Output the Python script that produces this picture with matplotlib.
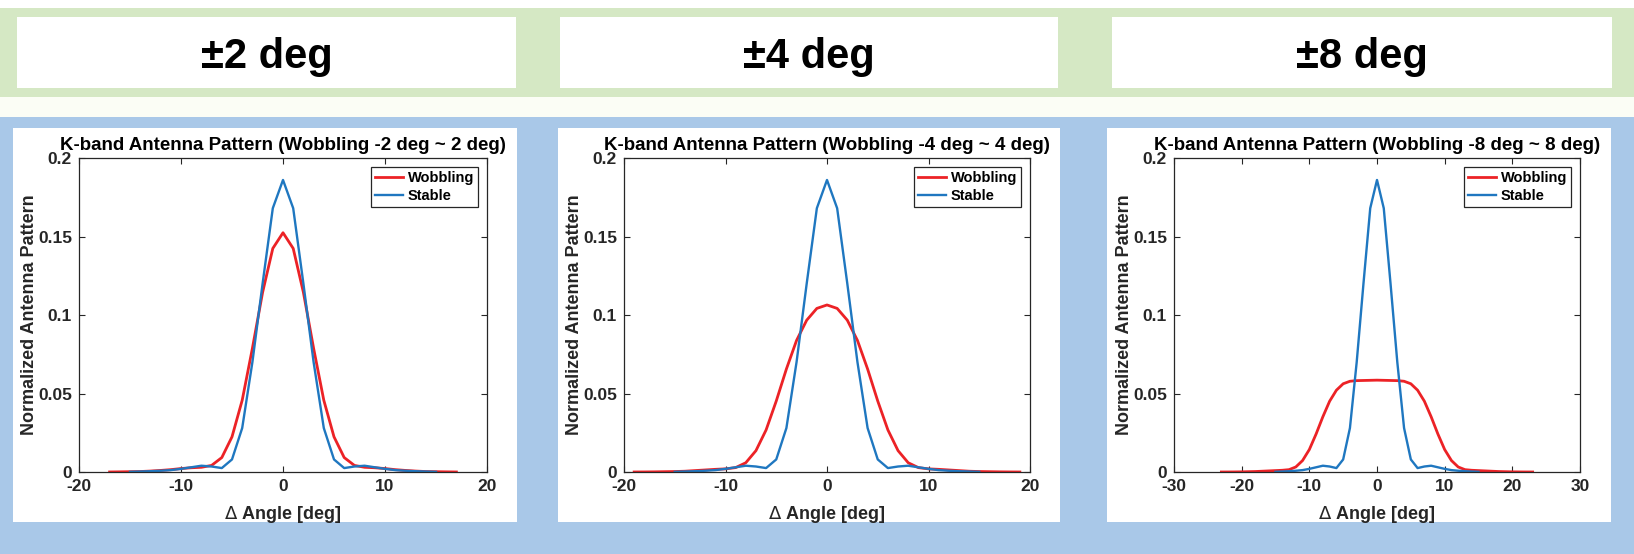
import numpy as np
import matplotlib
matplotlib.use("Agg")
import matplotlib.pyplot as plt
from matplotlib.patches import Rectangle

plt.rcParams['font.family'] = ['Liberation Sans', 'DejaVu Sans']
plt.rcParams['mathtext.fontset'] = 'dejavusans'

W, H = 1634, 554

# ---------------- data ----------------
header_labels = ["±2 deg", "±4 deg", "±8 deg"]
panel_titles = ["K-band Antenna Pattern (Wobbling -2 deg ~ 2 deg)",
                "K-band Antenna Pattern (Wobbling -4 deg ~ 4 deg)",
                "K-band Antenna Pattern (Wobbling -8 deg ~ 8 deg)"]

stable_x = np.arange(-15, 16)
stable_y = [0.0001, 0.0003, 0.0005, 0.0008, 0.0012, 0.002, 0.003, 0.004, 0.0035, 0.0025,
            0.008, 0.028, 0.070, 0.120, 0.168, 0.186, 0.168, 0.120, 0.070, 0.028, 0.008,
            0.0025, 0.0035, 0.004, 0.003, 0.002, 0.0012, 0.0008, 0.0005, 0.0003, 0.0001]

wob2_x = np.arange(-17, 18)
wob2_y = [0.00002, 0.0001, 0.0002, 0.0003, 0.0006, 0.0010, 0.0015, 0.0022, 0.0027, 0.0030,
          0.0042, 0.0092, 0.0224, 0.0457, 0.0788, 0.1144, 0.1424,
          0.1524,
          0.1424, 0.1144, 0.0788, 0.0457, 0.0224, 0.0092, 0.0042, 0.0030, 0.0027, 0.0022,
          0.0015, 0.0010, 0.0006, 0.0003, 0.0002, 0.0001, 0.00002]

wob4_x = np.arange(-19, 20)
wob4_y = [0.00001, 0.00004, 0.0001, 0.0002, 0.0003, 0.0005, 0.0009, 0.0013, 0.0017, 0.0020,
          0.0028, 0.0059, 0.0136, 0.0268, 0.0452, 0.0656, 0.0838, 0.0967, 0.1042,
          0.1064,
          0.1042, 0.0967, 0.0838, 0.0656, 0.0452, 0.0268, 0.0136, 0.0059, 0.0028, 0.0020,
          0.0017, 0.0013, 0.0009, 0.0005, 0.0003, 0.0002, 0.0001, 0.00004, 0.00001]

wob8_x = np.arange(-23, 24)
wob8_y = [0.00001, 0.00002, 0.00005, 0.0001, 0.0002, 0.0003, 0.0005, 0.0007, 0.0009, 0.0011,
          0.0015, 0.0032, 0.0073, 0.0143, 0.0242, 0.0352, 0.0451, 0.0521, 0.0562, 0.0578,
          0.0582, 0.0583, 0.0584,
          0.0585,
          0.0584, 0.0583, 0.0582, 0.0578, 0.0562, 0.0521, 0.0451, 0.0352, 0.0242, 0.0143,
          0.0073, 0.0032, 0.0015, 0.0011, 0.0009, 0.0007, 0.0005, 0.0003, 0.0002, 0.0001,
          0.00005, 0.00002, 0.00001]

wob_x = [wob2_x, wob4_x, wob8_x]
wob_y = [wob2_y, wob4_y, wob8_y]
xlims = [(-20, 20), (-20, 20), (-30, 30)]
xticks = [[-20, -10, 0, 10, 20], [-20, -10, 0, 10, 20], [-30, -20, -10, 0, 10, 20, 30]]
yticks = [0, 0.05, 0.1, 0.15, 0.2]
ytick_labels = ["0", "0.05", "0.1", "0.15", "0.2"]

# ---------------- layout helpers ----------------
def fr(x0, y0, x1, y1):
    return [x0 / W, 1 - y1 / H, (x1 - x0) / W, (y1 - y0) / H]

fig = plt.figure(figsize=(W / 100, H / 100), dpi=100)
fig.patch.set_facecolor('white')

def rect(x0, y0, x1, y1, color, z=0):
    fig.add_artist(Rectangle((x0 / W, 1 - y1 / H), (x1 - x0) / W, (y1 - y0) / H,
                             transform=fig.transFigure, facecolor=color,
                             edgecolor='none', zorder=z))

GREEN = '#d5e8c4'
BLUE = '#a9c8e8'
rect(0, 97, W, 117, '#fbfdf5', 0)
rect(0, 8, W, 97, GREEN, 0)
rect(0, 117, W, H, BLUE, 0)

boxes = [(17, 516), (560, 1058), (1112, 1612)]
for (bx0, bx1), lab in zip(boxes, header_labels):
    rect(bx0, 17, bx1, 88, 'white', 1)
    fig.text((bx0 + bx1) / 2 / W, 1 - 57 / H, lab, ha='center', va='center',
             fontsize=30, fontweight='bold', family=['Liberation Sans', 'DejaVu Sans'],
             zorder=2)

panels = [(13, 517), (558, 1060), (1107, 1611)]
axes_x = [(79, 487), (624, 1030), (1174, 1580)]
for (px0, px1) in panels:
    rect(px0, 128, px1, 522, 'white', 1)

RED = '#ec2226'
MBLUE = '#1f77c0'
DARK = '#262626'

for i in range(3):
    ax0, ax1 = axes_x[i]
    ax = fig.add_axes(fr(ax0, 158, ax1, 472))
    ax.set_zorder(3)
    ax.plot(wob_x[i], wob_y[i], color=RED, lw=2.0, label='Wobbling')
    ax.plot(stable_x, stable_y, color=MBLUE, lw=1.7, label='Stable')
    ax.set_xlim(*xlims[i])
    ax.set_ylim(0, 0.2)
    ax.set_xticks(xticks[i])
    ax.set_xticklabels([str(t) for t in xticks[i]])
    ax.set_yticks(yticks)
    ax.set_yticklabels(ytick_labels)
    ax.tick_params(direction='in', top=True, right=True, length=4, width=0.8,
                   labelsize=12.5, colors=DARK, pad=5)
    for lbl in ax.get_xticklabels() + ax.get_yticklabels():
        lbl.set_fontweight('bold')
    for sp in ax.spines.values():
        sp.set_color(DARK)
        sp.set_linewidth(0.9)
    ax.set_title(panel_titles[i], fontsize=13.5, fontweight='bold', color='black', pad=6)
    ax.set_xlabel(r'$\Delta$ Angle [deg]', fontsize=13, fontweight='bold', color=DARK,
                  labelpad=7)
    ax.set_ylabel('Normalized Antenna Pattern', fontsize=13, fontweight='bold', color=DARK,
                  labelpad=0)
    leg = ax.legend(loc='upper right', fancybox=False, framealpha=1, edgecolor=DARK,
                    prop={'weight': 'bold', 'size': 10.5}, handlelength=1.9,
                    handletextpad=0.3, borderpad=0.3, labelspacing=0.25,
                    borderaxespad=0.6)
    leg.get_frame().set_linewidth(0.9)

fig.savefig('out.png', dpi=100, facecolor=fig.get_facecolor())
